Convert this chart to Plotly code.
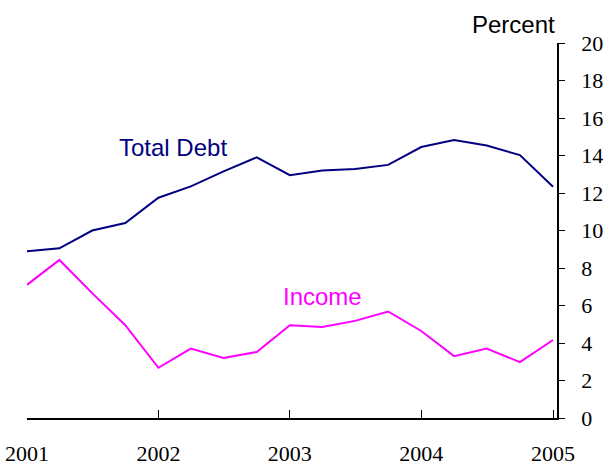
import plotly.graph_objects as go

quarters = ["2001-01-01", "2001-04-01", "2001-07-01", "2001-10-01",
            "2002-01-01", "2002-04-01", "2002-07-01", "2002-10-01",
            "2003-01-01", "2003-04-01", "2003-07-01", "2003-10-01",
            "2004-01-01", "2004-04-01", "2004-07-01", "2004-10-01",
            "2005-01-01"]
total_debt = [8.9, 9.05, 10.0, 10.4, 11.75, 12.35, 13.15, 13.9, 12.95, 13.2,
              13.28, 13.5, 14.45, 14.82, 14.53, 14.02, 12.33]
income = [7.1, 8.43, 6.66, 4.95, 2.68, 3.7, 3.2, 3.52, 4.95, 4.86,
          5.18, 5.68, 4.64, 3.3, 3.7, 2.98, 4.16]
year_ticks = ["2001-01-01", "2002-01-01", "2003-01-01", "2004-01-01", "2005-01-01"]
year_labels = ["2001", "2002", "2003", "2004", "2005"]
y_ticks = list(range(0, 21, 2))

NAVY = "#000080"
MAGENTA = "#FF00FF"
serif = "Liberation Serif, Times New Roman, serif"
sans = "Liberation Sans, Arial, sans-serif"

fig = go.Figure()
fig.add_trace(go.Scatter(x=quarters, y=total_debt, mode="lines",
                         line=dict(color=NAVY, width=2), name="Total Debt"))
fig.add_trace(go.Scatter(x=quarters, y=income, mode="lines",
                         line=dict(color=MAGENTA, width=2), name="Income"))

fig.add_annotation(x="2002-02-10", y=14.45, text="Total Debt", showarrow=False,
                   font=dict(family=sans, size=24, color=NAVY))
fig.add_annotation(x="2003-04-01", y=6.5, text="Income", showarrow=False,
                   font=dict(family=sans, size=24, color=MAGENTA))
fig.add_annotation(xref="paper", yref="paper", x=1.0, y=1.0, yshift=19,
                   xanchor="right", yanchor="middle", text="Percent",
                   showarrow=False, font=dict(family=sans, size=24, color="black"))

fig.update_layout(
    width=603, height=466,
    margin=dict(l=27, r=46, t=43, b=48, autoexpand=False),
    paper_bgcolor="white", plot_bgcolor="white",
    showlegend=False,
    xaxis=dict(
        type="date",
        automargin=False,
        range=["2001-01-01", "2005-01-12"],
        tickvals=year_ticks, ticktext=year_labels,
        ticks="inside", ticklen=8, tickcolor="black", tickwidth=1,
        showline=True, linecolor="black", linewidth=1.5,
        showgrid=False, zeroline=False,
        tickfont=dict(family=serif, size=22, color="black"),
        ticklabelstandoff=15,
    ),
    yaxis=dict(
        side="right",
        automargin=False,
        range=[0, 20],
        tickvals=y_ticks,
        ticks="outside", ticklen=6, tickcolor="black", tickwidth=1,
        showline=True, linecolor="black", linewidth=1.5,
        showgrid=False, zeroline=False,
        tickfont=dict(family=serif, size=22, color="black"),
        ticklabelstandoff=12,
    ),
)

fig.write_html("out.html", config={"displayModeBar": False},
               post_script="document.body.style.margin='0';")
